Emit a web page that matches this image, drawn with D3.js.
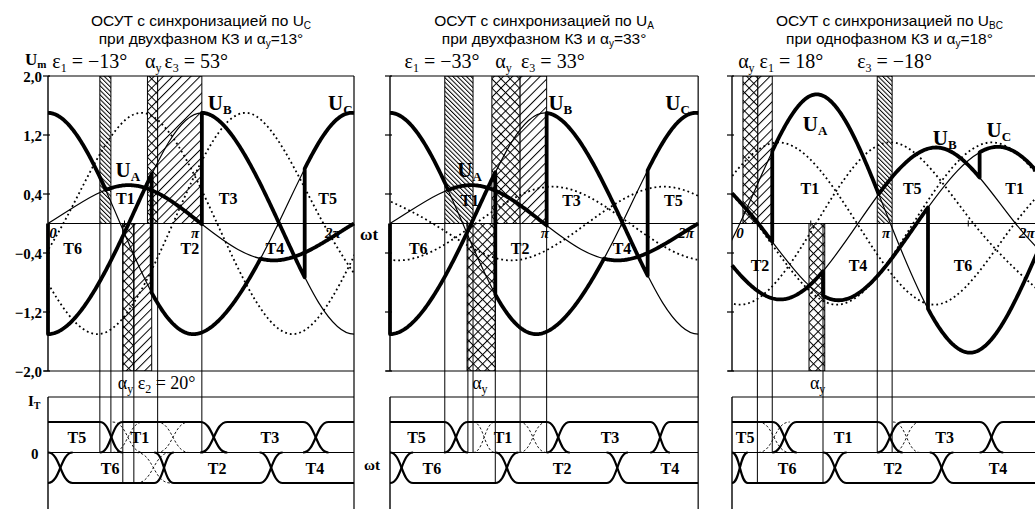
<!DOCTYPE html>
<html>
<head>
<meta charset="utf-8">
<script src="https://cdn.jsdelivr.net/npm/d3@7"></script>
<style>
  body { margin: 0; background: #fff; }
  svg { display: block; }
  .serif { font-family: "Liberation Serif", "Times New Roman", serif; }
  .sans { font-family: "Liberation Sans", Arial, sans-serif; }
</style>
</head>
<body>
<svg id="chart" width="1035" height="509"></svg>
<script>
// ---- axis ticks ----
const yTicks = [2.0, 1.2, 0.4, -0.4, -1.2, -2.0];
const yTickLabels = ["2,0", "1,2", "0,4", "\u22120,4", "\u22121,2", "\u22122,0"];

// ---- voltages: [ωt in degrees, U / Um] ----
// two-phase fault (panels 1 and 2)
const uA2 = [[-92, -0.5], [0, 0], [93, 0.52], [180, 0], [268, -0.5], [360, 0], [453, 0.52]];
const uB2 = [[-90, 0], [0, -1.5], [95, 0], [181, 1.5], [272, 0], [360, -1.5], [450, 0]];
const uC2 = [[-88, 0], [0, 1.5], [85, 0], [171, -1.5], [271, 0], [357, 1.5], [445, 0]];
const dot1a = [[-36, 0], [58, -1.5], [147, 0], [234, 1.5], [324, 0], [414, -1.5]];
const dot1b = [[-72, -1.5], [18, 0], [108, 1.5], [199, 0], [288, -1.5], [378, 0]];
const dot2a = [[-40, 0.5], [50, 0], [140, -0.5], [230, 0], [320, 0.5], [410, 0]];
const dot2b = [[-80, 0], [10, -0.5], [100, 0], [190, 0.5], [280, 0], [370, -0.5], [460, 0]];
// single-phase fault (panel 3)
const uA3 = [[-81, -1.75], [9, 0], [95, 1.75], [181, 0], [274, -1.75], [364, 0], [450, 1.75]];
const uB3 = [[-35, 0], [55, -1.03], [144, 0], [235, 1.03], [324, 0], [414, -1.03]];
const uC3 = [[-56, 1.04], [30, 0], [120, -1.04], [211, 0], [304, 1.04], [390, 0]];
const dot3a = [[-37, 0], [53, 1.1], [143, 0], [233, -1.1], [323, 0], [413, 1.1]];
const dot3b = [[-81, 0], [9, -1.1], [96, 0], [183, 1.1], [276, 0], [369, -1.1]];
const dot3c = [[-63, 1.1], [28, 0], [118, -1.1], [207, 0], [297, 1.1], [387, 0]];

// ---- rectified rails: [phase, switch angle, "x" natural crossing | "j" jump] ----
const rails1 = [
  [["C", 67, "x"], ["A", 181, "j"], ["B", 302, "j"], ["C"]],
  [["A", 0, "j"], ["B", 122, "j"], ["C", 252, "x"], ["A"]]
];
const rails2 = [
  [["C", 64, "x"], ["A", 183, "j"], ["B", 301, "j"], ["C"]],
  [["A", 0, "j"], ["B", 123, "j"], ["C", 252, "x"], ["A"]]
];
const rails3 = [
  [["C", 46, "j"], ["A", 166, "x"], ["B", 283, "j"], ["C"]],
  [["B", 104, "j"], ["C", 224, "j"], ["A"]]
];

// ---- hatched sectors: [kind, from°, to°, half (1 upper / -1 lower)] ----
const bands1 = [["e-", 61, 74, 1], ["a", 117, 129, 1], ["e+", 129, 181, 1], ["a", 88, 101, -1], ["e+", 101, 122, -1]];
const bands2 = [["e-", 64, 97, 1], ["a", 119, 152, 1], ["e+", 152, 183, 1], ["a", 90, 123, -1]];
const bands3 = [["a", 12.5, 29.5, 1], ["e+", 29.5, 46, 1], ["e-", 166, 183, 1], ["a", 88, 106, -1]];

// ---- projection lines down to the current plot: [angle, 0 = mid line, -1 = bottom] ----
const guides1 = [[61, 0], [74, 0], [88, -1], [101, -1], [129, 0], [181, 0]];
const guides2 = [[64, 0], [91, 0], [97, 0], [123, -1], [152, 0], [183, 0]];
const guides3 = [[29, -1], [46, 0], [104, -1], [166, 0], [183, 0]];

// ---- thyristor currents: [name, rise start, rise end, fall start, fall end] ----
const odd1 = [["T5", -90, -60, 61, 88], ["T1", 61, 88, 179, 211], ["T3", 179, 211, 300, 330], ["T5", 300, 330, 450, 480]];
const even1 = [["T4", -90, -60, 0, 29], ["T6", 0, 29, 125, 148], ["T2", 125, 148, 249, 276], ["T4", 249, 276, 450, 480]];
const odd2 = [["T5", -90, -60, 63, 91], ["T1", 63, 91, 183, 210], ["T3", 183, 210, 304, 327], ["T5", 304, 327, 450, 480]];
const even2 = [["T4", -90, -60, 0, 27], ["T6", 0, 27, 123, 150], ["T2", 123, 150, 253, 278], ["T4", 253, 278, 450, 480]];
const odd3 = [["T5", -90, -60, 46, 74], ["T1", 46, 74, 166, 195], ["T3", 166, 195, 283, 310], ["T5", 283, 310, 450, 480]];
const even3 = [["T4", -90, -60, 0, 18], ["T6", 0, 18, 104, 131], ["T2", 104, 131, 226, 253], ["T4", 226, 253, 450, 480]];
// dashed (non-realised) commutations: [from°, to°]
const dashOdd1 = [[76, 112], [128, 166]], dashEven1 = [[104, 144]];
const dashOdd2 = [[97, 123], [151, 183]], dashEven2 = [];
const dashOdd3 = [[30, 66], [184, 215]], dashEven3 = [];

// ---- texts ----
const titles = [
  ["ОСУТ с синхронизацией по U_C", "при двухфазном КЗ и α_у=13°"],
  ["ОСУТ с синхронизацией по U_A", "при двухфазном КЗ и α_у=33°"],
  ["ОСУТ с синхронизацией по U_{BC}", "при однофазном КЗ и α_у=18°"]
];
const heads1 = [["ε_1 = −13°", 5], ["α_y", 114], ["ε_3 = 53°", 137]];
const heads2 = [["ε_1 = −33°", 17], ["α_y", 123], ["ε_3 = 33°", 153]];
const heads3 = [["α_y ε_1 = 18°", 7], ["ε_3 = −18°", 143]];
const foots1 = [["α_y ε_2 = 20°", 82]], foots2 = [["α_y", 96]], foots3 = [["α_y", 89]];
const marks1 = [["T1", 91, 0.35], ["T3", 212, 0.35], ["T5", 329, 0.35], ["T6", 29, -0.33], ["T2", 167, -0.33], ["T4", 267, -0.33],
                ["U_A", 94, 0.72], ["U_B", 202, 1.64], ["U_C", 344, 1.64]];
const marks2 = [["T1", 93, 0.32], ["T3", 212, 0.32], ["T5", 331, 0.32], ["T6", 33, -0.33], ["T2", 152, -0.33], ["T4", 271, -0.33],
                ["U_A", 93, 0.72], ["U_B", 199, 1.64], ["U_C", 336, 1.64]];
const marks3 = [["T1", 89, 0.48], ["T5", 206, 0.48], ["T1", 323, 0.48], ["T2", 32, -0.56], ["T4", 144, -0.56], ["T6", 264, -0.56],
                ["U_A", 95, 1.35], ["U_B", 243, 1.16], ["U_C", 305, 1.27]];
const wtLabels1 = [["0", 6], ["π", 173], ["2π", 335]];
const wtLabels2 = [["π", 181], ["2π", 346]];
const wtLabels3 = [["0", 9], ["π", 176], ["2π", 337]];
const names1 = [["T5", 34, 1], ["T1", 108, 1], ["T3", 261, 1], ["T6", 73, -1], ["T2", 199, -1], ["T4", 314, -1]];
const names2 = [["T5", 31, 1], ["T1", 132, 1], ["T3", 257, 1], ["T6", 49, -1], ["T2", 201, -1], ["T4", 327, -1]];
const names3 = [["T5", 15, 1], ["T1", 127, 1], ["T3", 243, 1], ["T6", 63, -1], ["T2", 184, -1], ["T4", 304, -1]];

const panels = [
  { x0: 48, k: 0.85, waves: { A: uA2, B: uB2, C: uC2 }, dots: [dot1a, dot1b], rails: rails1, bands: bands1, guides: guides1,
    odd: odd1, even: even1, dOdd: dashOdd1, dEven: dashEven1, title: titles[0], heads: heads1, foots: foots1,
    marks: marks1, wt: wtLabels1, names: names1 },
  { x0: 390, k: 0.856, waves: { A: uA2, B: uB2, C: uC2 }, dots: [dot2a, dot2b], rails: rails2, bands: bands2, guides: guides2,
    odd: odd2, even: even2, dOdd: dashOdd2, dEven: dashEven2, title: titles[1], heads: heads2, foots: foots2,
    marks: marks2, wt: wtLabels2, names: names2 },
  { x0: 732, k: 0.875, waves: { A: uA3, B: uB3, C: uC3 }, dots: [dot3a, dot3b, dot3c], rails: rails3, bands: bands3, guides: guides3,
    odd: odd3, even: even3, dOdd: dashOdd3, dEven: dashEven3, title: titles[2], heads: heads3, foots: foots3,
    marks: marks3, wt: wtLabels3, names: names3 }
];

const svg = d3.select("#chart");
const defs = svg.append("defs");

function hatch(id, w, angle, cross) {
  const p = defs.append("pattern").attr("id", id).attr("patternUnits", "userSpaceOnUse")
    .attr("width", w).attr("height", w).attr("patternTransform", `rotate(${angle})`);
  p.append("rect").attr("width", w).attr("height", w).attr("fill", "#fff");
  p.append("line").attr("x1", 0.5).attr("x2", 0.5).attr("y1", 0).attr("y2", w).attr("stroke", "#000").attr("stroke-width", 1);
  if (cross) p.append("line").attr("x1", 0).attr("x2", w).attr("y1", 0.5).attr("y2", 0.5).attr("stroke", "#000").attr("stroke-width", 1);
}
hatch("hBack", 3.2, -45, false);
hatch("hFwd", 6.5, 45, false);
hatch("hCross", 6.5, 45, true);
const hatchOf = { "e-": "hBack", "e+": "hFwd", "a": "hCross" };

// text with "_x" / "_{xy}" subscripts
function rich(sel, str, subSize, dy) {
  let low = false;
  str.split(/(_\{[^}]*\}|_.)/).filter(s => s).forEach(s => {
    const isSub = s[0] === "_";
    const t = sel.append("tspan").text(isSub ? s.replace(/^_\{?|\}$/g, "") : s);
    if (isSub) { t.attr("font-size", subSize).attr("dy", low ? 0 : dy); low = true; }
    else { if (low) t.attr("dy", -dy); low = false; }
  });
  return sel;
}

// x -> y lookup along a drawn path
function lookup(node) {
  const len = node.getTotalLength(), pts = [];
  for (let l = 0; l < len; l += 0.5) pts.push(node.getPointAtLength(l));
  pts.push(node.getPointAtLength(len));
  return px => {
    let lo = 0, hi = pts.length - 1;
    while (hi - lo > 1) { const m = (lo + hi) >> 1; if (pts[m].x < px) lo = m; else hi = m; }
    const a = pts[lo], b = pts[hi];
    const t = b.x === a.x ? 0 : (px - a.x) / (b.x - a.x);
    return a.y + t * (b.y - a.y);
  };
}

function drawPanel(p, idx) {
  const x = d3.scaleLinear().domain([0, 360]).range([p.x0, p.x0 + 360 * p.k]);
  const y = d3.scaleLinear().domain([-2, 2]).range([371, 76]);
  const yb = d3.scaleLinear().domain([-1, 1]).range([483, 422]);
  const x0 = x(0), xr = Math.min(x(360), 1035);
  const curve = d3.line().x(d => x(d[0])).y(d => y(d[1])).curve(d3.curveNatural);
  const g = svg.append("g");

  defs.append("clipPath").attr("id", "top" + idx).append("rect")
    .attr("x", x0).attr("y", y(2)).attr("width", x(360) - x0).attr("height", y(-2) - y(2));
  defs.append("clipPath").attr("id", "bot" + idx).append("rect")
    .attr("x", x0).attr("y", 397).attr("width", x(360) - x0).attr("height", 112);

  const top = g.append("g").attr("clip-path", `url(#top${idx})`);

  top.selectAll(null).data(p.bands).join("rect")
    .attr("x", d => x(d[1])).attr("width", d => x(d[2]) - x(d[1]))
    .attr("y", d => d[3] > 0 ? y(2) : y(0)).attr("height", y(0) - y(2))
    .attr("fill", d => `url(#${hatchOf[d[0]]})`).attr("stroke", "#000").attr("stroke-width", 1);

  const fn = {};
  Object.entries(p.waves).forEach(([key, pts]) => {
    const path = top.append("path").attr("d", curve(pts)).attr("fill", "none")
      .attr("stroke", "#000").attr("stroke-width", 1.2);
    fn[key] = lookup(path.node());
  });

  p.dots.forEach(pts => top.append("path").attr("d", curve(pts)).attr("fill", "none")
    .attr("stroke", "#000").attr("stroke-width", 1.8).attr("stroke-dasharray", "1.8,3"));

  const crossAt = (f, h, guess) => {
    let best = guess, bestD = Infinity;
    for (let d = guess - 20; d < guess + 20; d += 0.25) {
      const a = f(x(d)) - h(x(d)), b = f(x(d + 0.25)) - h(x(d + 0.25));
      if (a * b <= 0 && Math.abs(d - guess) < bestD) {
        bestD = Math.abs(d - guess);
        best = d + 0.25 * (a - b === 0 ? 0 : a / (a - b));
      }
    }
    return best;
  };

  p.rails.forEach(rail => {
    const pts = [];
    let cur = 0;
    rail.forEach((seg, j) => {
      const f = fn[seg[0]];
      let end = seg.length > 1 ? seg[1] : 360;
      if (seg[2] === "x") end = crossAt(f, fn[rail[j + 1][0]], end);
      for (let px = x(cur); px < x(end); px += 1) pts.push([px, f(px)]);
      pts.push([x(end), f(x(end))]);
      if (seg[2] === "j") pts.push([x(end), fn[rail[j + 1][0]](x(end))]);
      cur = end;
    });
    g.append("path").attr("d", d3.line()(pts)).attr("fill", "none").attr("stroke", "#000")
      .attr("stroke-width", 3.8).attr("stroke-linejoin", "round");
  });

  // frame and axes
  const L = (a, b, c, d, w) => g.append("line").attr("x1", a).attr("y1", b).attr("x2", c).attr("y2", d)
    .attr("stroke", "#000").attr("stroke-width", w || 1.2);
  L(x0, y(2), xr, y(2));
  L(x0 - 4, y(-2), xr, y(-2));
  L(x0, y(0), xr, y(0));
  L(x0, y(2), x0, y(-2), 1.4);
  L(x0, 397, xr, 397);
  L(x0, 397, x0, 509, 1.4);
  L(x0, yb(0), xr, yb(0));
  if (x(360) < 1035) L(x(360), y(2), x(360), 509);
  yTicks.forEach(v => L(x0 - 5, y(v), x0 + 2, y(v)));
  [90, 270].forEach(d => L(x(d), y(0) - 3, x(d), y(0) + 3, 1));
  p.guides.forEach(d => L(x(d[0]), y(0), x(d[0]), yb(d[1]), 1));

  // thyristor currents
  const bot = g.append("g").attr("clip-path", `url(#bot${idx})`);
  const sCurve = (ctx, xa, ya, xb, yb_) => { const m = (xa + xb) / 2; ctx.bezierCurveTo(m, ya, m, yb_, xb, yb_); };
  const pulse = (d, s) => {
    const c = d3.path(), b = yb(0), l = yb(s);
    c.moveTo(x(d[1]), b);
    sCurve(c, x(d[1]), b, x(d[2]), l);
    c.lineTo(x(d[3]), l);
    sCurve(c, x(d[3]), l, x(d[4]), b);
    return c.toString();
  };
  const cross = (d, s) => {
    const c = d3.path(), b = yb(0), l = yb(s);
    c.moveTo(x(d[0]), l); sCurve(c, x(d[0]), l, x(d[1]), b);
    c.moveTo(x(d[0]), b); sCurve(c, x(d[0]), b, x(d[1]), l);
    return c.toString();
  };
  [[p.odd, 1], [p.even, -1]].forEach(([list, s]) =>
    bot.selectAll(null).data(list).join("path").attr("d", d => pulse(d, s))
      .attr("fill", "none").attr("stroke", "#000").attr("stroke-width", 2.2));
  [[p.dOdd, 1], [p.dEven, -1]].forEach(([list, s]) =>
    bot.selectAll(null).data(list).join("path").attr("d", d => cross(d, s))
      .attr("fill", "none").attr("stroke", "#000").attr("stroke-width", 0.9).attr("stroke-dasharray", "2.5,2"));
  g.selectAll(null).data(p.names).join("text").attr("class", "serif")
    .attr("x", d => x(d[1])).attr("y", d => yb(d[2] * 0.5) + 6)
    .attr("text-anchor", "middle").attr("font-size", 16).attr("font-weight", "bold").text(d => d[0]);

  // texts
  p.title.forEach((t, i) => rich(g.append("text").attr("class", "sans").attr("x", x(180)).attr("y", 26 + i * 18)
    .attr("text-anchor", "middle").attr("font-size", 15.5), t, 10, 3));
  p.heads.forEach(d => rich(g.append("text").attr("class", "serif").attr("x", x(d[1])).attr("y", 68)
    .attr("font-size", 20), d[0], 12, 4));
  p.foots.forEach(d => rich(g.append("text").attr("class", "serif").attr("x", x(d[1])).attr("y", 389)
    .attr("font-size", 18), d[0], 12, 4));
  p.marks.forEach(d => {
    const isU = d[0][0] === "U";
    rich(g.append("text").attr("class", "serif").attr("x", x(d[1])).attr("y", y(d[2]) + (isU ? 7 : 6))
      .attr("text-anchor", "middle").attr("font-weight", "bold").attr("font-size", isU ? 21 : 16), d[0], 13, 4);
  });
  g.selectAll(null).data(p.wt).join("text").attr("class", "serif")
    .attr("x", d => x(d[1])).attr("y", y(0) + 14).attr("text-anchor", "middle")
    .attr("font-style", "italic").attr("font-weight", "bold").attr("font-size", 15).text(d => d[0]);

  if (idx === 0) {
    g.selectAll(null).data(yTicks).join("text").attr("class", "serif")
      .attr("x", x0 - 6).attr("y", v => y(v) + 6).attr("text-anchor", "end")
      .attr("font-weight", "bold").attr("font-size", 15).text((v, i) => yTickLabels[i]);
    rich(g.append("text").attr("class", "serif").attr("x", 25).attr("y", 65)
      .attr("font-weight", "bold").attr("font-size", 17), "U_m", 11, 3);
    rich(g.append("text").attr("class", "serif").attr("x", 28).attr("y", 406)
      .attr("font-weight", "bold").attr("font-size", 15), "I_T", 10, 3);
    g.append("text").attr("class", "serif").attr("x", 31).attr("y", yb(0) + 6)
      .attr("font-weight", "bold").attr("font-size", 15).text("0");
    g.append("text").attr("class", "serif").attr("x", x(360) + 6).attr("y", y(0) + 16)
      .attr("font-weight", "bold").attr("font-size", 17).text("ωt");
    g.append("text").attr("class", "serif").attr("x", x(360) + 10).attr("y", yb(0) + 17)
      .attr("font-weight", "bold").attr("font-size", 15).text("ωt");
  }
}

panels.forEach(drawPanel);
</script>
</body>
</html>
